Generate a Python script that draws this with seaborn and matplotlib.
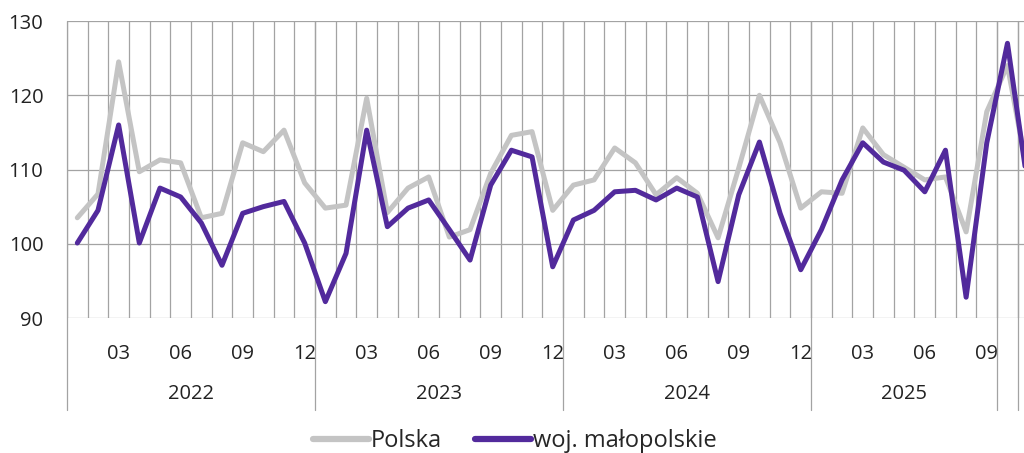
import numpy as np
import pandas as pd
import seaborn as sns
import matplotlib.pyplot as plt
import matplotlib.transforms as mtransforms

# dane miesięczne od 2022-01 (ostatni punkt 2025-11 wychodzi poza kadr)
polska = [103.5, 106.7, 124.5, 109.7, 111.3, 110.9, 103.5, 104.1, 113.6, 112.4, 115.3, 108.2,
          104.8, 105.2, 119.6, 104.2, 107.5, 109.0, 100.9, 101.9, 109.5, 114.6, 115.1, 104.5,
          107.9, 108.6, 112.9, 110.9, 106.6, 108.9, 106.8, 100.8, 110.2, 120.0, 113.6, 104.8,
          107.0, 106.8, 115.6, 112.0, 110.3, 108.6, 109.0, 101.6, 117.8, 124.0, 109.0]
malopolskie = [100.1, 104.5, 116.0, 100.1, 107.5, 106.3, 102.8, 97.1, 104.1, 105.0, 105.7, 100.1,
               92.2, 98.7, 115.3, 102.3, 104.8, 105.9, 101.9, 97.8, 107.9, 112.6, 111.7, 96.9,
               103.2, 104.5, 107.0, 107.2, 105.9, 107.5, 106.3, 94.9, 106.6, 113.7, 104.1, 96.5,
               101.9, 108.6, 113.6, 111.0, 109.9, 107.0, 112.6, 92.8, 113.6, 127.0, 107.5]
miesiace = ['03', '06', '09', '12']
lata = ['2022', '2023', '2024', '2025']
granice_grup = [0, 12, 24, 36, 45, 46]  # granice grup osi kategorii (w miesiącach)

n = len(polska)
df = pd.DataFrame({
    'idx': list(range(n)) * 2,
    'wartosc': polska + malopolskie,
    'seria': ['Polska'] * n + ['woj. małopolskie'] * n,
})

sns.set_style('white')
plt.rcParams['font.family'] = ['Open Sans', 'DejaVu Sans']

fig = plt.figure(figsize=(10.24, 4.53), dpi=100)
ax = fig.add_axes([0.0654, 0.298, 0.9346, 0.6556])

sns.lineplot(data=df, x='idx', y='wartosc', hue='seria',
             palette={'Polska': '#C4C4C4', 'woj. małopolskie': '#522A9C'},
             linewidth=3.6, ax=ax, zorder=3)

# siatka: linie poziome + pionowe na granicach miesięcy
grid_kw = dict(color='#A3A3A3', linewidth=0.9)
ax.set_xticks(np.arange(-0.5, n, 1), minor=True)
ax.grid(which='minor', axis='x', **grid_kw)
ax.grid(which='major', axis='y', **grid_kw)
for s in ax.spines.values():
    s.set_visible(False)

# etykiety miesięcy
pos = [i for i in range(n) if (i % 12) + 1 in (3, 6, 9, 12) and i <= 44]
ax.set_xticks(pos)
ax.set_xticklabels([miesiace[(i % 12) // 3] for i in pos])
ax.tick_params(axis='x', which='both', length=0, pad=19, labelsize=14.5, colors='#222222')
ax.tick_params(axis='y', length=0, pad=17, labelsize=14.5, colors='#222222')
ax.set_xlabel('')
ax.set_ylabel('')
ax.set_yticks([90, 100, 110, 120, 130])
ax.set_xlim(-0.5, 45.8)
ax.set_ylim(90, 130)

# etykiety lat i pionowe separatory
trans = mtransforms.blended_transform_factory(ax.transData, ax.transAxes)
for k, rok in enumerate(lata):
    a, b = granice_grup[k], granice_grup[k + 1]
    ax.text((a + b) / 2 - 0.5, -0.255, rok, transform=trans, ha='center', va='center',
            fontsize=14.5, color='#222222')
for g in granice_grup:
    ax.plot([g - 0.5, g - 0.5], [1, -0.31], transform=trans, clip_on=False,
            color='#A3A3A3', linewidth=0.9)

leg = ax.legend(loc='center', bbox_to_anchor=(0.503, 0.026), bbox_transform=fig.transFigure,
                ncol=2, frameon=False, fontsize=17, handlelength=2.35, handletextpad=0.1,
                columnspacing=1.4, borderpad=0)
for line in leg.get_lines():
    line.set_linewidth(4.5)

plt.savefig('out.png', dpi=100)
